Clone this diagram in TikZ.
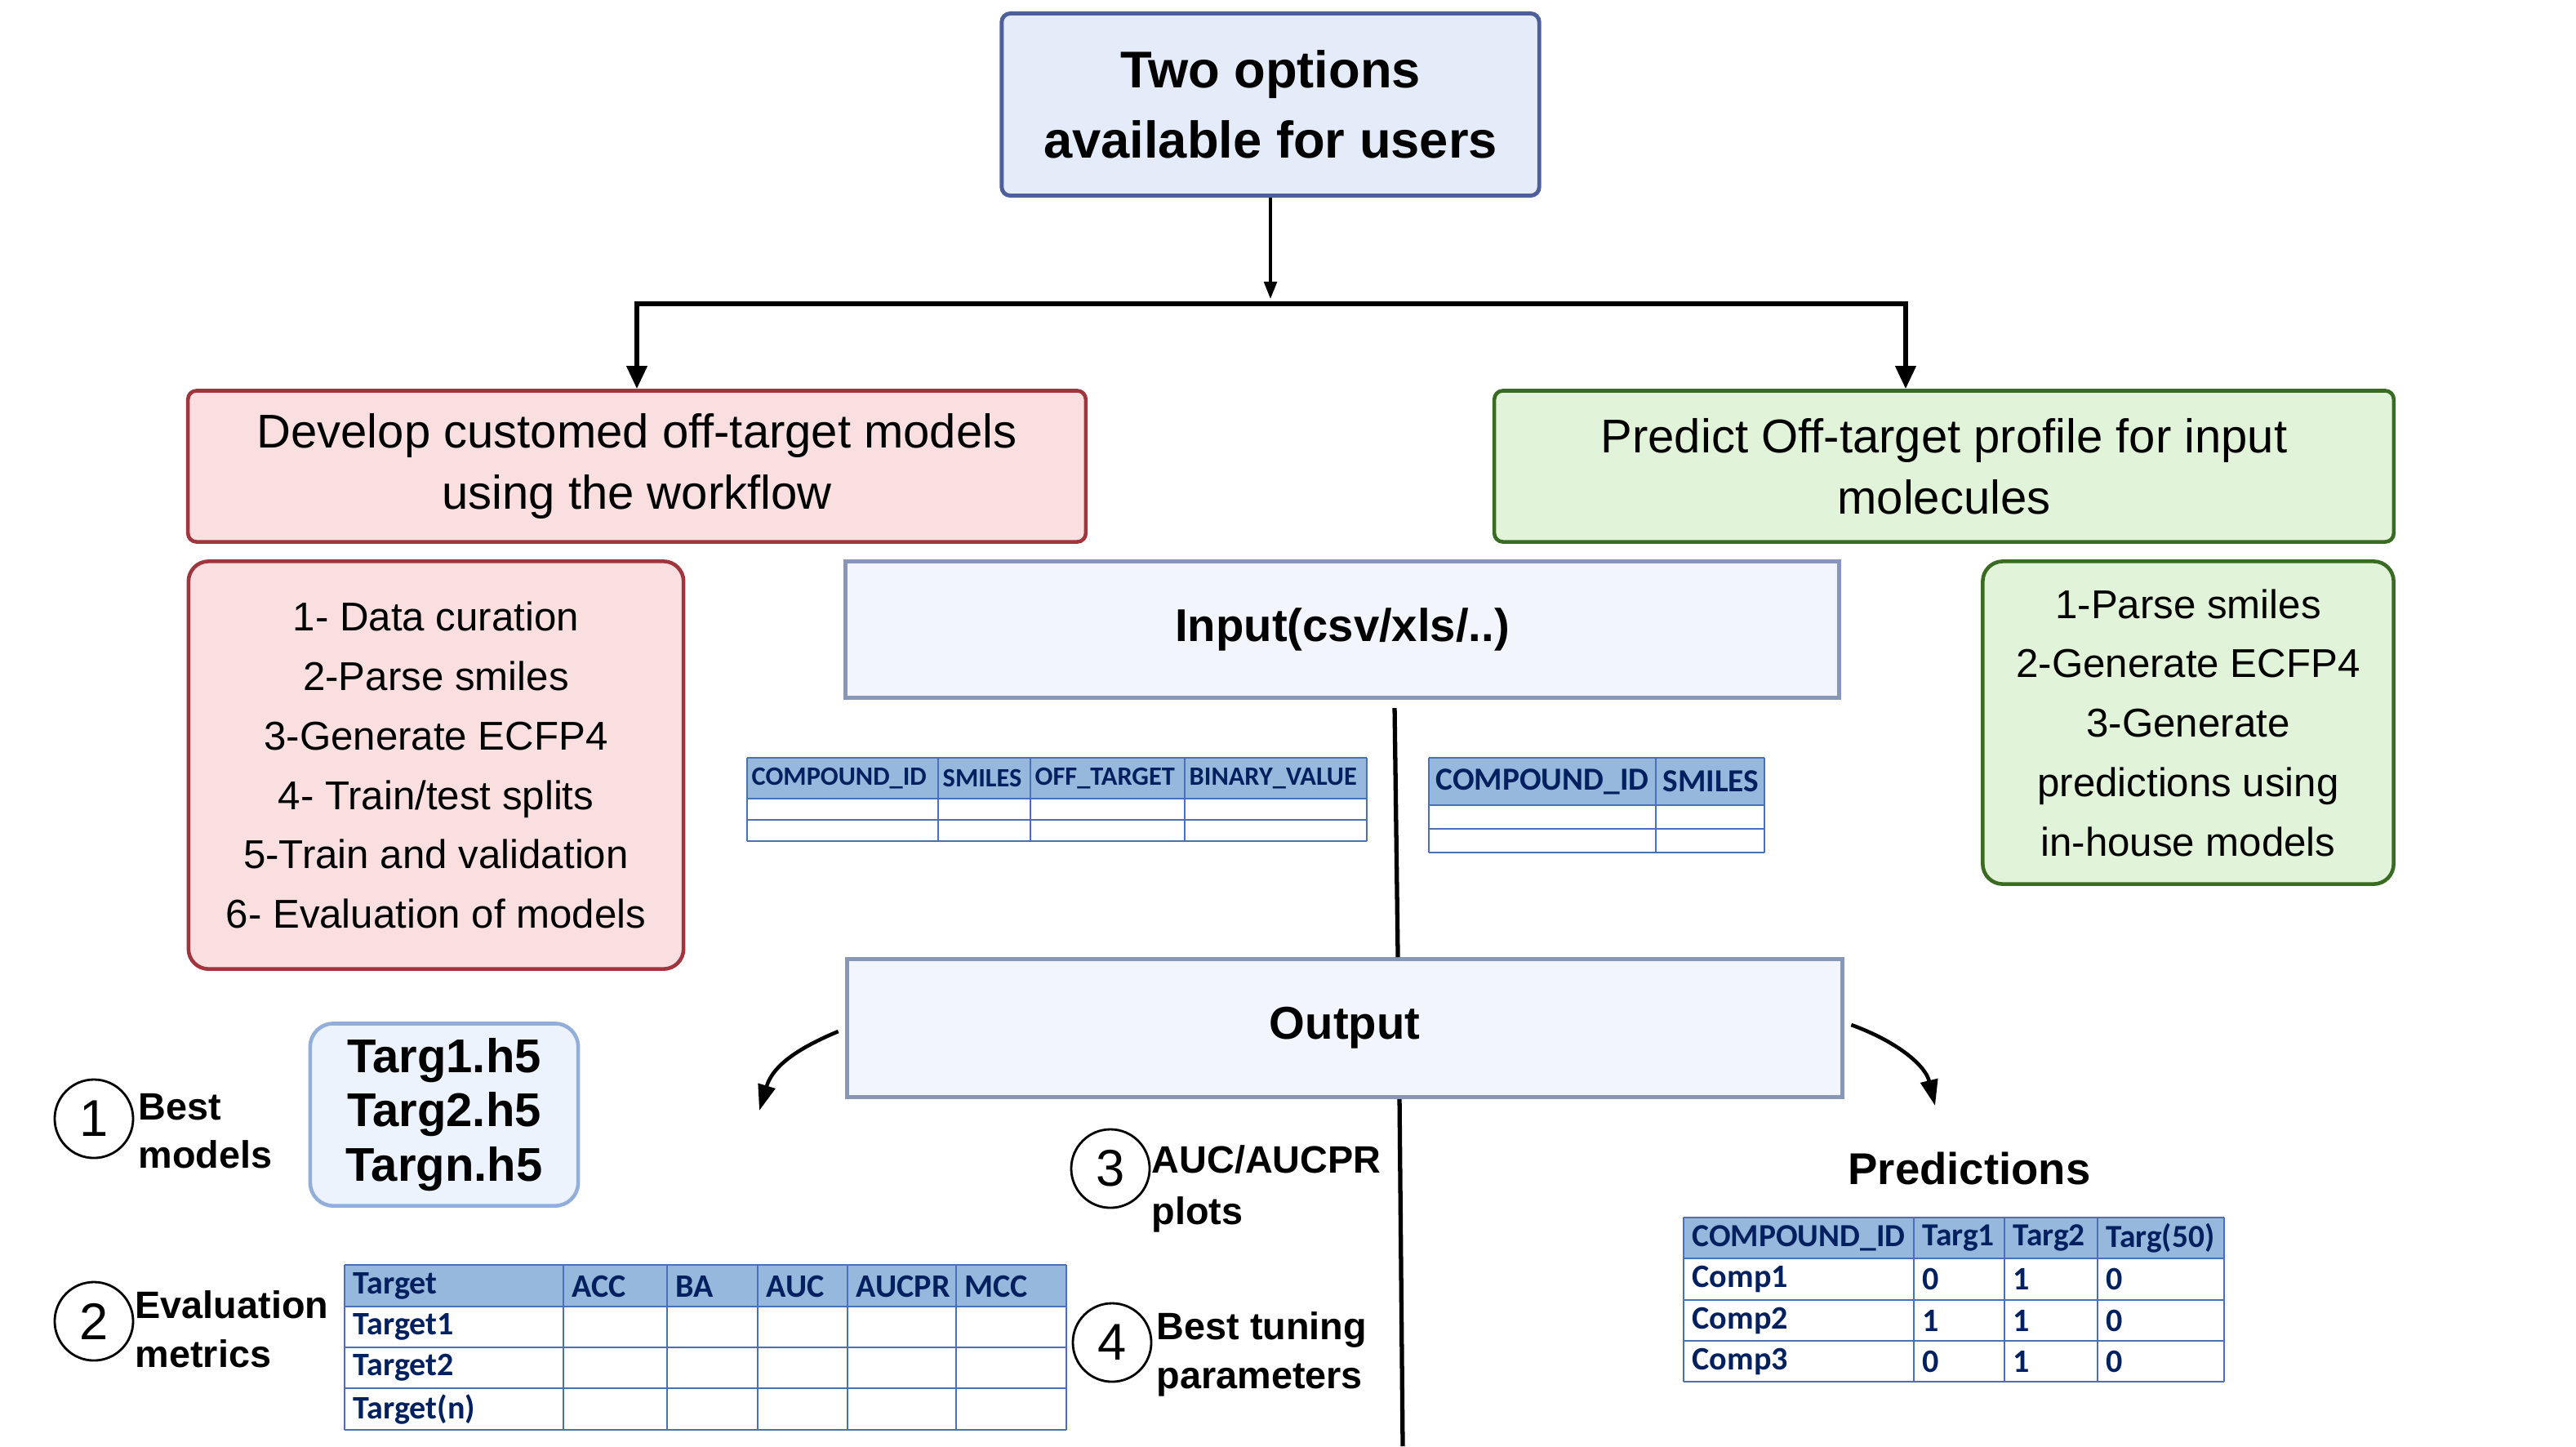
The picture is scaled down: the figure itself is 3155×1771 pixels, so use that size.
\documentclass[tikz,border=0pt]{standalone}
\usepackage{fontspec}
\setmainfont{Liberation Sans}
\newfontfamily\tablefont{Carlito}
\usepackage{tikz}
\usetikzlibrary{arrows,arrows.meta,calc,shapes}
\definecolor{titlefill}{HTML}{E4EBF9}
\definecolor{titleline}{HTML}{4F5F9C}
\definecolor{devfill}{HTML}{F9DFE0}
\definecolor{devline}{HTML}{A1353D}
\definecolor{predfill}{HTML}{E1F3D9}
\definecolor{predline}{HTML}{3A6B22}
\definecolor{iofill}{HTML}{F2F5FB}
\definecolor{ioline}{HTML}{8896B8}
\definecolor{hfivefill}{HTML}{ECF3FC}
\definecolor{hfiveline}{HTML}{94AEDA}
\definecolor{hdrfill}{HTML}{95B8DC}
\definecolor{gridline}{HTML}{4A70B8}
\definecolor{navy}{HTML}{002060}
\tikzstyle{titlebox}=[draw=titleline,fill=titlefill,line width=1.4pt,rounded corners=3pt,align=center,font=\bfseries\fontsize{18}{24.5}\selectfont]
\tikzstyle{devbox}=[draw=devline,fill=devfill,line width=1.3pt,rounded corners=3pt,align=center,font=\fontsize{16.5}{21.3}\selectfont]
\tikzstyle{predbox}=[devbox,draw=predline,fill=predfill]
\tikzstyle{iobox}=[draw=ioline,fill=iofill,line width=1.4pt,font=\bfseries\fontsize{16}{16}\selectfont]
\tikzstyle{hfivebox}=[draw=hfiveline,fill=hfivefill,line width=1.3pt,rounded corners=8pt,align=center,font=\bfseries\fontsize{16.5}{18.8}\selectfont]
\tikzstyle{num}=[circle,draw,line width=0.8pt,minimum size=0.96cm,inner sep=0pt,font=\fontsize{18}{18}\selectfont]
\tikzstyle{outlabel}=[anchor=west,align=left,inner sep=0pt,font=\bfseries\fontsize{13.3}{17}\selectfont]
\tikzstyle{cell}=[anchor=west,inner sep=0pt,text=navy,font=\tablefont\bfseries\fontsize{11.4}{11.4}\selectfont]
\tikzstyle{tabrule}=[draw=gridline,line width=0.6pt]
\tikzstyle{branch}=[draw,line width=1.6pt,{Triangle[length=8pt,width=7pt]}-{Triangle[length=8pt,width=7pt]}]
\tikzstyle{spine}=[draw,line width=1.5pt]
\tikzstyle{curl}=[draw,line width=1.3pt,-{Triangle[length=9pt,width=6pt]}]

\begin{document}
\begin{tikzpicture}[x=0.01cm,y=-0.01cm]
  \useasboundingbox (0,0) rectangle (3155,1771);

  % the two options
  \node[titlebox,minimum width=6.58cm,minimum height=2.23cm] (opts) at (1556,128) {Two options\\available for users};
  \node[devbox,minimum width=10.99cm,minimum height=1.85cm] (dev) at (780,571) {Develop customed off-target models\\using the workflow};
  \node[predbox,minimum width=11.01cm,minimum height=1.85cm] (pred) at (2381,571) {Predict Off-target profile for input\\molecules};
  \coordinate (split) at (1556,366);
  \draw[line width=0.9pt,-{Triangle[length=6pt,width=4.5pt]}] (opts) -- (split);
  \path[branch] (dev.north) |- ([yshift=-0.06cm]split) -| ([xshift=-0.47cm]pred.north);

  % steps
  \node[devbox,font=\fontsize{14}{20.7}\selectfont,rounded corners=7pt,minimum width=6.06cm,minimum height=4.99cm] (devsteps) at (534,937) {1- Data curation\\2-Parse smiles\\3-Generate ECFP4\\4- Train/test splits\\5-Train and validation\\6- Evaluation of models};
  \node[predbox,font=\fontsize{14}{20.7}\selectfont,rounded corners=7pt,minimum width=5.03cm,minimum height=3.95cm] (predsteps) at (2680,885) {1-Parse smiles\\2-Generate ECFP4\\3-Generate\\predictions using\\in-house models};

  % input and output
  \node[iobox,minimum width=12.17cm,minimum height=1.67cm] (input) at (1644,771) {Input(csv/xls/..)};
  \node[iobox,minimum width=12.19cm,minimum height=1.69cm] (output) at (1647,1259) {Output};
  \coordinate (spineend) at (1718,1771);
  \path[spine] ([xshift=0.64cm,yshift=-0.1cm]input.south) -- ([xshift=0.65cm]output.north);
  \path[spine] ([xshift=0.67cm]output.south) -- (spineend);
  \coordinate (lefttip) at (930,1360);
  \coordinate (righttip) at (2370,1354);
  \path[curl] ([xshift=-0.08cm,yshift=-0.04cm]output.west) .. controls +(-60,25) and +(15,-50) .. (lefttip);
  \path[curl] ([xshift=0.08cm,yshift=0.04cm]output.east) .. controls +(55,20) and +(-12,-50) .. (righttip);

  % input table, develop
  \fill[hdrfill] (915,928) rectangle (1674,978);
  \foreach \y in {928,978,1004,1030}
    \path[tabrule] (915,\y) -- (1674,\y);
  \foreach \x in {915,1149,1262,1451,1674}
    \path[tabrule] (\x,928) -- (\x,1030);
  \foreach \x/\txt [count=\i] in {915/COMPOUND\_ID,1149/SMILES,1262/OFF\_TARGET,1451/BINARY\_VALUE}
    \node[cell,font=\tablefont\bfseries\fontsize{9.2}{9.2}\selectfont] (devcol\i) at (\x+5,953) {\txt};

  % input table, predict
  \fill[hdrfill] (1750,928) rectangle (2161,986);
  \foreach \y in {928,986,1015,1044}
    \path[tabrule] (1750,\y) -- (2161,\y);
  \foreach \x in {1750,2028,2161}
    \path[tabrule] (\x,928) -- (\x,1044);
  \foreach \x/\txt [count=\i] in {1750/COMPOUND\_ID,2028/SMILES}
    \node[cell,font=\tablefont\bfseries\fontsize{11.2}{11.2}\selectfont] (smicol\i) at (\x+8,957) {\txt};

  % outputs
  \node[num] (n1) at (115,1370) {1};
  \node[outlabel] (bestmod) at (169,1385) {Best\\models};
  \node[hfivebox,minimum width=3.28cm,minimum height=2.23cm] (hfive) at (544,1365) {Targ1.h5\\Targ2.h5\\Targn.h5};

  \node[num] (n2) at (115,1618) {2};
  \node[outlabel] (evalm) at (165,1628) {Evaluation\\metrics};
  \fill[hdrfill] (422,1549) rectangle (1306,1600);
  \foreach \y in {1549,1600,1650,1700,1751}
    \path[tabrule] (422,\y) -- (1306,\y);
  \foreach \x in {422,690,817,928,1038,1171,1306}
    \path[tabrule] (\x,1549) -- (\x,1751);
  \foreach \x/\txt [count=\i] in {422/Target,690/ACC,817/BA,928/AUC,1038/AUCPR,1171/MCC}
    \node[cell] (evalcol\i) at (\x+10,1575) {\txt};
  \foreach \y/\txt [count=\i] in {1625/Target1,1675/Target2,1726/Target(n)}
    \node[cell] (evalrow\i) at (432,\y) {\txt};

  \node[num] (n3) at (1360,1431) {3};
  \node[outlabel,font=\bfseries\fontsize{13.3}{18}\selectfont] (plots) at (1410,1456) {AUC/AUCPR\\plots};
  \node[num] (n4) at (1362,1644) {4};
  \node[outlabel] (tuning) at (1416,1658) {Best tuning\\parameters};

  % predictions
  \node[font=\bfseries\fontsize{15.5}{15.5}\selectfont] (predtitle) at (2412,1431) {Predictions};
  \fill[hdrfill] (2062,1491) rectangle (2724,1541);
  \foreach \y in {1491,1541,1592,1642,1692}
    \path[tabrule] (2062,\y) -- (2724,\y);
  \foreach \x in {2062,2344,2455,2569,2724}
    \path[tabrule] (\x,1491) -- (\x,1692);
  \foreach \x/\txt [count=\i] in {2062/COMPOUND\_ID,2344/Targ1,2455/Targ2,2569/Targ(50)}
    \node[cell,font=\tablefont\bfseries\fontsize{11.2}{11.2}\selectfont] (predcol\i) at (\x+10,1516) {\txt};
  \foreach \yy/\cmp/\va/\vb/\vc [count=\i] in {1566/Comp1/0/1/0,1617/Comp2/1/1/0,1667/Comp3/0/1/0}{
    \node[cell] (comp\i) at (2072,\yy) {\cmp};
    \node[cell] (val\i-1) at (2354,\yy) {\va};
    \node[cell] (val\i-2) at (2465,\yy) {\vb};
    \node[cell] (val\i-3) at (2579,\yy) {\vc};
  }

\end{tikzpicture}
\end{document}
